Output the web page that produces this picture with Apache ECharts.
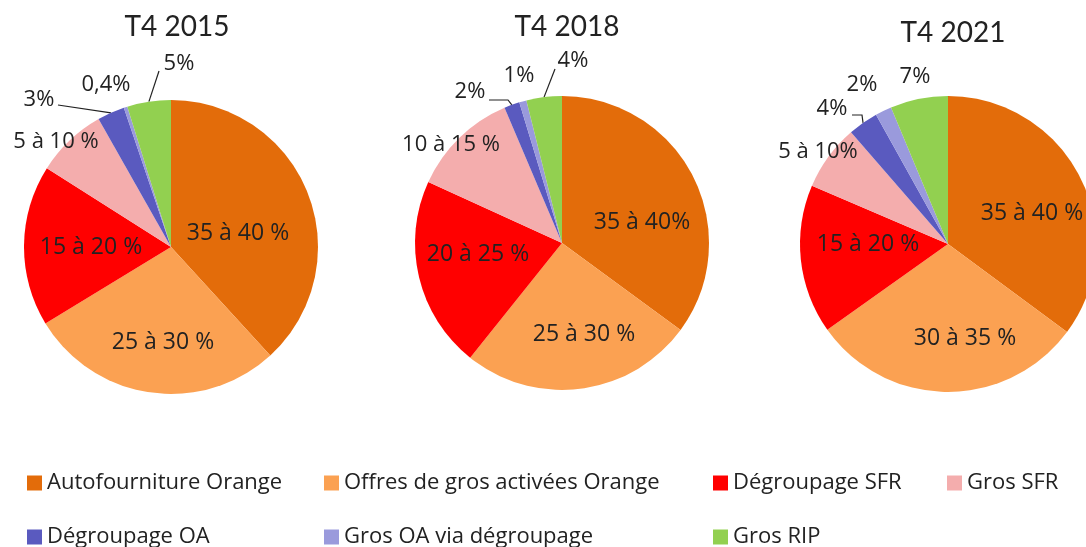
<!DOCTYPE html>
<html>
<head>
<meta charset="utf-8">
<script src="https://cdn.jsdelivr.net/npm/echarts@6/dist/echarts.min.js"></script>
<style>
	html, body { margin: 0; padding: 0; background: #fff; }
	#main { width: 1086px; height: 547px; }
</style>
</head>
<body>
<div id="main"></div>
<script type="text/javascript">

	// categories (clockwise from 12 o'clock)
	var categories = ['Autofourniture Orange', 'Offres de gros activées Orange', 'Dégroupage SFR', 'Gros SFR',
		'Dégroupage OA', 'Gros OA via dégroupage', 'Gros RIP'];
	var colors = ['#E36C0A', '#FBA152', '#FF0000', '#F4ADAD', '#5A5ABF', '#9A9ADC', '#92D050'];

	var years = ['T4 2015', 'T4 2018', 'T4 2021'];

	// shares (%)
	var values2015 = [38.2, 28.1, 17.7, 7.8, 3.0, 0.4, 4.8];
	var values2018 = [35.1, 25.7, 21.1, 11.8, 1.7, 0.8, 3.9];
	var values2021 = [35.2, 30.1, 16.3, 7.2, 3.3, 1.8, 6.3];

	// printed labels
	var labels2015 = ['35 à 40 %', '25 à 30 %', '15 à 20 %', '5 à 10 %', '3%', '0,4%', '5%'];
	var labels2018 = ['35 à 40%', '25 à 30 %', '20 à 25 %', '10 à 15 %', '2%', '1%', '4%'];
	var labels2021 = ['35 à 40 %', '30 à 35 %', '15 à 20 %', '5 à 10%', '4%', '2%', '7%'];

	var FONT = '"Open Sans", sans-serif';
	var TITLE_FONT = 'Lato, sans-serif';

	// where each label sits (centre of the text) and the bends of its leader line, per pie
	var labelPlace = [
		[[238, 233], [163, 342], [91, 247], [56, 142], [39, 100], [106, 85], [179, 64]],
		[[642, 222], [584, 334], [478, 254], [451, 145], [470, 92], [519, 76], [573, 61]],
		[[1032, 213], [965, 338], [868, 244], [818, 152], [832, 109], [862, 85], [915, 77]]
	];
	var leaderBends = [
		{ 4: [[58, 105]], 6: [[159, 71]] },
		{ 4: [[508, 100], [489, 100]], 6: [[555, 69]] },
		{ 4: [[862, 115], [852, 115]] }
	];

	function buildData(values, labels, bends) {
		return values.map(function (v, i) {
			var inside = i < 3;
			return {
				name: categories[i],
				value: v,
				label: {
					show: true,
					formatter: labels[i],
					position: inside ? 'inside' : 'outside',
					fontSize: inside ? 23 : 22
				},
				labelLine: { show: !!bends[i] }
			};
		});
	}

	function pieSeries(k, cx, cy, r, values, labels) {
		return {
			name: years[k],
			type: 'pie',
			center: [cx, cy],
			radius: [0, r],
			startAngle: 90,
			clockwise: true,
			avoidLabelOverlap: false,
			itemStyle: { borderWidth: 0 },
			label: { color: '#222', fontFamily: FONT },
			labelLine: { length: 10, length2: 14, lineStyle: { color: '#222', width: 1.2 } },
			labelLayout: function (params) {
				var p = labelPlace[k][params.dataIndex];
				var out = { x: p[0], y: p[1], align: 'center', verticalAlign: 'middle' };
				var b = leaderBends[k][params.dataIndex];
				if (b && params.labelLinePoints) {
					out.labelLinePoints = [params.labelLinePoints[0]].concat(b);
				}
				return out;
			},
			emphasis: { disabled: true },
			data: buildData(values, labels, leaderBends[k])
		};
	}

	// one legend per cell so the columns line up like the original grid
	function legendCell(x, y, name) {
		return {
			left: x,
			top: y,
			padding: 0,
			itemWidth: 15,
			itemHeight: 15,
			icon: 'rect',
			selectedMode: false,
			textStyle: { fontSize: 22, color: '#222', fontFamily: FONT },
			data: [name]
		};
	}

	var titleStyle = { fontSize: 28, fontWeight: 'normal', color: '#222', fontFamily: TITLE_FONT };

	var chart = echarts.init(document.getElementById('main'), null, { renderer: 'canvas' });
	chart.setOption({
		animation: false,
		color: colors,
		title: [
			{ text: years[0], left: 172, top: 8, textAlign: 'center', textStyle: titleStyle },
			{ text: years[1], left: 562, top: 8, textAlign: 'center', textStyle: titleStyle },
			{ text: years[2], left: 948, top: 14, textAlign: 'center', textStyle: titleStyle }
		],
		legend: [
			legendCell(27, 472, categories[0]),
			legendCell(324, 472, categories[1]),
			legendCell(713, 472, categories[2]),
			legendCell(947, 472, categories[3]),
			legendCell(27, 526, categories[4]),
			legendCell(324, 526, categories[5]),
			legendCell(713, 526, categories[6])
		],
		series: [
			pieSeries(0, 171, 247, 147, values2015, labels2015),
			pieSeries(1, 562, 243, 147, values2018, labels2018),
			pieSeries(2, 948, 244, 148, values2021, labels2021)
		]
	});

</script>
</body>
</html>
